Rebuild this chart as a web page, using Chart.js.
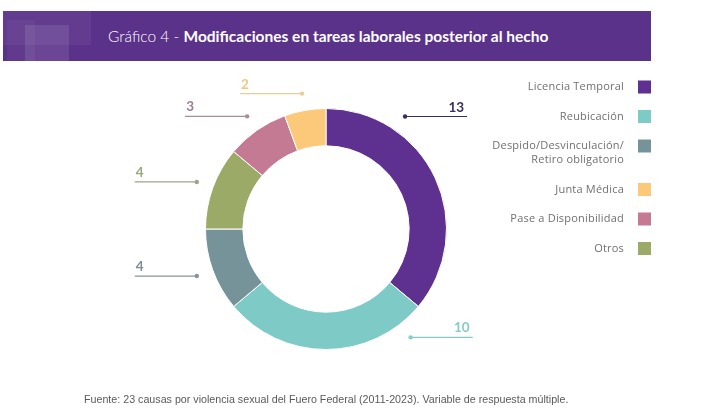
<!DOCTYPE html>
<html>
<head>
<meta charset="utf-8">
<script src="https://cdn.jsdelivr.net/npm/chart.js@4.4.1/dist/chart.umd.min.js"></script>
<style>
  html, body { margin: 0; padding: 0; background: #fff; }
  #wrap { position: relative; width: 722px; height: 417px; overflow: hidden; }
  #header { position: absolute; left: 3px; top: 11px; width: 648px; height: 50px; background: #5b3289; overflow: hidden; }
  #header .d1 { position: absolute; left: 0; top: 0; width: 88px; height: 34px; background: rgba(255,255,255,0.05); }
  #header .d2 { position: absolute; left: 22px; top: 14px; width: 44px; height: 36px; background: rgba(255,255,255,0.10); }
  #header .d3 { position: absolute; left: 4px; top: 9px; width: 28px; height: 41px; background: rgba(255,255,255,0.04); }
  #title { position: absolute; left: 105px; top: 0; font: 300 15.5px Lato, sans-serif; line-height: 50px; color: #fff; white-space: nowrap; }
  #title b { font-weight: 700; }
  #footer { position: absolute; left: 84px; top: 393px; font: 10.7px "Liberation Sans", Arial, sans-serif; color: #5a5a5a; white-space: nowrap; }
  canvas { position: absolute; left: 0; top: 0; }
</style>
</head>
<body>
<div id="wrap">
  <canvas id="grafico" width="722" height="417"></canvas>
  <div id="header"><div class="d1"></div><div class="d3"></div><div class="d2"></div>
    <div id="title">Gráfico 4 - <b>Modificaciones en tareas laborales posterior al hecho</b></div>
  </div>
  <div id="footer">Fuente: 23 causas por violencia sexual del Fuero Federal (2011-2023). Variable de respuesta múltiple.</div>
</div>
<script>
// datos (orden de las porciones, en sentido horario desde arriba)
var categorias = ['Licencia Temporal', 'Reubicación', 'Despido/Desvinculación/ Retiro obligatorio', 'Otros', 'Pase a Disponibilidad', 'Junta Médica'];
var valores = [13, 10, 4, 4, 3, 2];
// orden de la leyenda
var ordenLeyenda = ['Licencia Temporal', 'Reubicación', 'Despido/Desvinculación/ Retiro obligatorio', 'Junta Médica', 'Pase a Disponibilidad', 'Otros'];

var colores = ['#5e3190', '#7ecac6', '#76939a', '#9bab67', '#c47a93', '#fcc97a'];
var coloresTexto = ['#3b2d58', '#86cbc8', '#7d8c90', '#9aa77a', '#a07c90', '#f2c77c'];
var coloresLinea = ['#3b2d58', '#86cbc8', '#8a9498', '#9aa58a', '#a88c9a', '#e8cf93'];
// donde cae el punto de cada etiqueta dentro de su porcion (0 = inicio, 1 = fin)
var anclaEtiqueta = [0.27, 0.12, 0.5, 0.5, 0.5, 0.5];

// etiquetas con linea y punto
var etiquetasPlugin = {
  id: 'etiquetas',
  afterDatasetsDraw: function(chart) {
    var ctx = chart.ctx;
    var arcs = chart.getDatasetMeta(0).data;
    ctx.save();
    arcs.forEach(function(arc, i) {
      var p = arc.getProps(['x', 'y', 'startAngle', 'endAngle', 'outerRadius']);
      var a = p.startAngle + anclaEtiqueta[i] * (p.endAngle - p.startAngle);
      var r = p.outerRadius + 17;
      var dx = p.x + Math.cos(a) * r;
      var dy = p.y + Math.sin(a) * r;
      var derecha = Math.cos(a) > 0;
      var x0 = derecha ? dx : dx - 62;
      var x1 = derecha ? dx + 62 : dx;

      ctx.strokeStyle = coloresLinea[i];
      ctx.lineWidth = 1.2;
      ctx.beginPath();
      ctx.moveTo(x0, dy);
      ctx.lineTo(x1, dy);
      ctx.stroke();

      ctx.fillStyle = coloresLinea[i];
      ctx.beginPath();
      ctx.arc(dx, dy, 2.2, 0, Math.PI * 2);
      ctx.fill();

      ctx.fillStyle = coloresTexto[i];
      ctx.font = 'bold 13.5px Lato, sans-serif';
      ctx.textBaseline = 'alphabetic';
      ctx.textAlign = derecha ? 'right' : 'left';
      ctx.fillText(String(valores[i]), derecha ? x1 - 3 : x0 + 1, dy - 5);
    });
    ctx.restore();
  }
};

// leyenda a la derecha, texto alineado a la derecha y cuadro a su lado
var leyendaPlugin = {
  id: 'leyendaDerecha',
  afterDraw: function(chart) {
    var ctx = chart.ctx;
    var y = 87;
    ctx.save();
    ctx.font = '11px "Open Sans", sans-serif';
    if ('letterSpacing' in ctx) ctx.letterSpacing = '0.2px';
    ctx.textAlign = 'right';
    ctx.textBaseline = 'middle';
    ordenLeyenda.forEach(function(nombre) {
      var i = categorias.indexOf(nombre);
      var lineas = nombre.indexOf('/ ') > -1 ? nombre.split('/ ').map(function(t, k, arr) { return k < arr.length - 1 ? t + '/' : t; }) : [nombre];
      ctx.fillStyle = '#707070';
      lineas.forEach(function(t, k) {
        ctx.fillText(t, 624, y + k * 14);
      });
      ctx.fillStyle = colores[i];
      ctx.fillRect(638, y - 6.5, 13, 13);
      y += 29.5 + (lineas.length - 1) * 14;
    });
    ctx.restore();
  }
};

new Chart(document.getElementById('grafico'), {
  type: 'doughnut',
  data: {
    labels: categorias,
    datasets: [{
      data: valores,
      backgroundColor: colores,
      borderColor: '#ffffff',
      borderWidth: 1
    }]
  },
  options: {
    responsive: false,
    animation: false,
    cutout: '69%',
    layout: { padding: { left: 205, right: 275, top: 108, bottom: 67 } },
    plugins: {
      legend: { display: false },
      tooltip: { enabled: false }
    }
  },
  plugins: [etiquetasPlugin, leyendaPlugin]
});
</script>
</body>
</html>
